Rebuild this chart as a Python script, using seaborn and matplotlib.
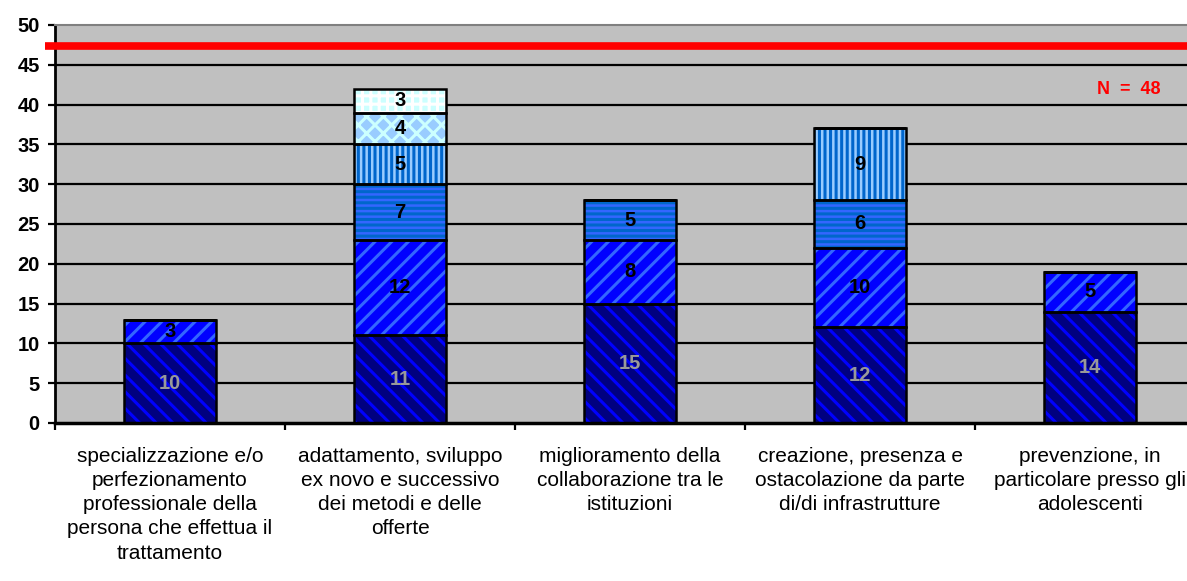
import numpy as np
import pandas as pd
import matplotlib
matplotlib.use("Agg")
import matplotlib.pyplot as plt
import seaborn as sns

sns.set_style("white")
plt.rcParams['font.family'] = ['Liberation Sans', 'DejaVu Sans']
plt.rcParams['hatch.linewidth'] = 2.2
plt.rcParams['text.color'] = 'black'

# categories (x axis labels, wrapped as in the original)
categories = [
    "specializzazione e/o\nperfezionamento\nprofessionale della\npersona che effettua il\ntrattamento",
    "adattamento, sviluppo\nex novo e successivo\ndei metodi e delle\nofferte",
    "miglioramento della\ncollaborazione tra le\nistituzioni",
    "creazione, presenza e\nostacolazione da parte\ndi/di infrastrutture",
    "prevenzione, in\nparticolare presso gli\nadolescenti",
]

# stacked series, bottom to top
s1 = [10, 11, 15, 12, 14]
s2 = [3, 12, 8, 10, 5]
s3 = [0, 7, 5, 6, 0]
s4 = [0, 5, 0, 9, 0]
s5 = [0, 4, 0, 0, 0]
s6 = [0, 3, 0, 0, 0]
series = [s1, s2, s3, s4, s5, s6]

n_total = 48
ref_line = 47.4
y_ticks = list(range(0, 55, 5))

# face colour, hatch colour, hatch pattern, label colour
styles = [
    ("#000080", "#0000ff", "\\\\", "#999999"),
    ("#0000ff", "#3366ff", "//", "black"),
    ("#3366ff", "#0066cc", "---", "black"),
    ("#99ccff", "#0066cc", "|||", "black"),
    ("#99ccff", "#ccffff", "xx", "black"),
    ("#ccffff", "#ffffff", "++", "black"),
]

fig = plt.figure(figsize=(11.87, 5.81), dpi=100)
ax = fig.add_axes([55/1187, 158/581, 1150/1187, 398/581])
ax.set_facecolor("#c0c0c0")

# grid lines behind bars
for y in y_ticks[1:-1]:
    ax.axhline(y, color="black", lw=1.6, zorder=0.5)

bottom = np.zeros(len(categories))
for vals, (face, hcol, hatch, tcol) in zip(series, styles):
    vals = np.array(vals, dtype=float)
    df = pd.DataFrame({"cat": categories, "val": vals})
    n_before = len(ax.patches)
    sns.barplot(data=df, x="cat", y="val", bottom=bottom, color=face,
                saturation=1, width=0.4, ax=ax, zorder=2)
    for p in ax.patches[n_before:]:
        p.set_edgecolor(hcol)
        p.set_hatch(hatch)
        p.set_linewidth(0)
    # black outline
    ax.bar(range(len(categories)), vals, bottom=bottom, width=0.4,
           fill=False, edgecolor="black", linewidth=1.8, zorder=3)
    for i, v in enumerate(vals):
        if v > 0:
            ax.text(i, bottom[i] + v / 2, "%d" % v, ha="center", va="center",
                    fontsize=14.5, fontweight="bold", color=tcol, zorder=4)
    bottom = bottom + vals

ax.axhline(ref_line, xmin=-0.009, xmax=1, color="#ff0000", lw=5.5,
           solid_capstyle="butt", clip_on=False, zorder=5)
ax.text(4.17, 41.9, "N  =  %d" % n_total, color="#ff0000", fontsize=13,
        fontweight="bold", ha="center", va="center")

ax.set_ylim(0, 50)
ax.set_xlim(-0.5, len(categories) - 0.5)
ax.set_yticks(y_ticks)
ax.set_yticklabels([str(t) for t in y_ticks], fontsize=14.5, fontweight="bold")
ax.tick_params(axis="y", direction="out", length=5, width=1.6, pad=6,
               left=True, colors="black")

ax.set_xticks(np.arange(-0.5, len(categories), 1.0))
ax.set_xticklabels([])
ax.set_xticks(np.arange(len(categories)), minor=True)
ax.set_xticklabels(categories, minor=True, fontsize=15, linespacing=1.35,
                   color="black")
ax.tick_params(axis="x", which="major", direction="out", length=5, width=1.6,
               bottom=True, colors="black")
ax.tick_params(axis="x", which="minor", length=0, pad=17, labelcolor="black")
ax.set_xlabel("")
ax.set_ylabel("")

ax.spines["right"].set_visible(False)
ax.spines["top"].set_color("#808080")
ax.spines["top"].set_linewidth(1.5)
ax.spines["left"].set_color("black")
ax.spines["left"].set_linewidth(2)
ax.spines["bottom"].set_color("black")
ax.spines["bottom"].set_linewidth(2.5)

fig.savefig("out.png", dpi=100, facecolor="white")
